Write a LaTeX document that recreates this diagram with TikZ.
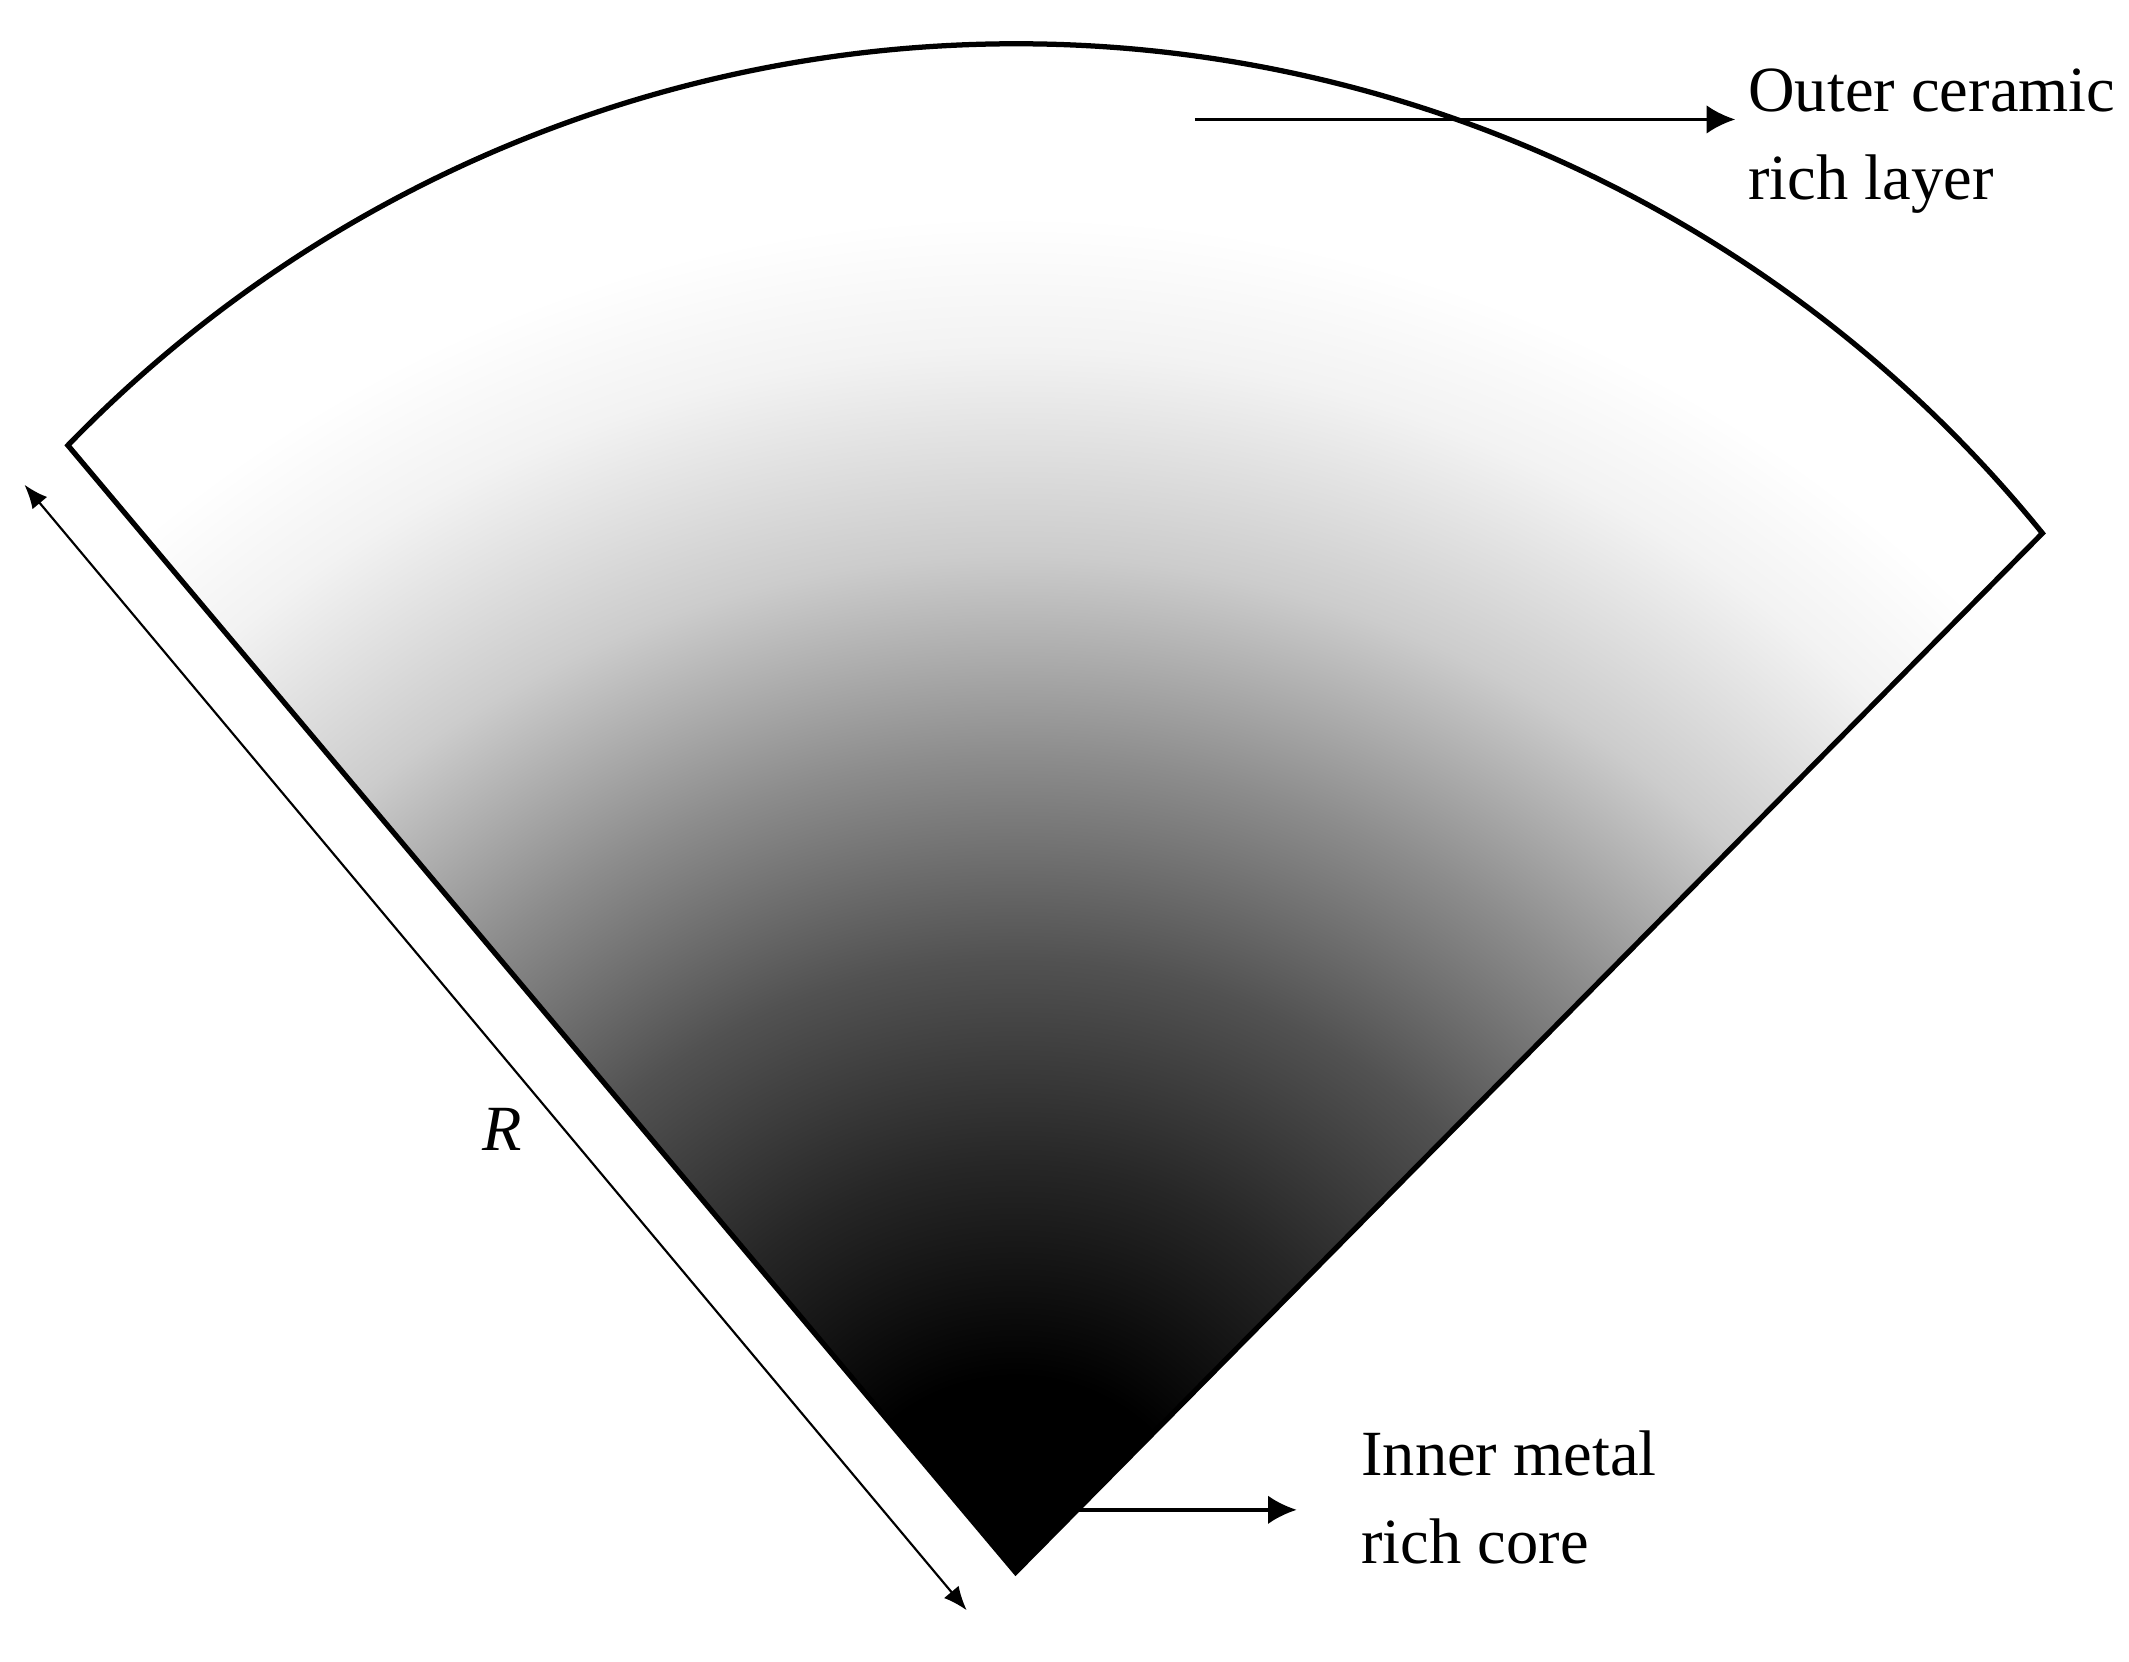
\documentclass[tikz,border=0pt]{standalone}
\usepackage{fontspec}
\setmainfont{Liberation Serif}
\usepackage{tikz}
\usetikzlibrary{arrows.meta}

\pgfdeclareradialshading{fgmshade}{\pgfpoint{0bp}{0bp}}{color(0bp)=(black); color(3bp)=(black); color(6.25bp)=(black!85); color(9.4bp)=(black!68); color(12.5bp)=(black!45); color(15.6bp)=(black!20); color(18.75bp)=(black!5); color(20.8bp)=(white); color(50bp)=(white)}

\begin{document}
\begin{tikzpicture}[x=0.01cm,y=0.01cm,
  lbl/.style={align=left, inner sep=0pt, font=\fontsize{13.5}{18.5}\selectfont},
  ptr/.style={line width=0.7pt, -{Latex[length=6pt,width=6pt]}},
  dimline/.style={line width=0.45pt, {Latex[length=5pt,width=4pt]}-{Latex[length=5pt,width=4pt]}}]
\useasboundingbox (0,0) rectangle (1568,1224);
\coordinate (o) at (748,66);
\coordinate (l) at (50,896);
\begin{scope}
\clip (o) -- (l) arc[start angle=135.9, end angle=39.0, radius=9.72cm] -- cycle;
\shade[shading=fgmshade] (o) circle[radius=12cm];
\end{scope}
\draw[line width=1.1pt] (o) -- (l) arc[start angle=135.9, end angle=39.0, radius=9.72cm] -- cycle;
\coordinate (rtop) at (18,867);
\coordinate (rbot) at (712,38);
\draw[dimline] (rtop) -- (rbot);
\node[font=\fontsize{13.5}{16}\selectfont\itshape] (rlbl) at (370,392) {R};
\node[lbl, anchor=west] (outer) at (1287,1120) {Outer ceramic\\rich layer};
\coordinate (cerstart) at (880,1136);
\coordinate (certip) at (1278,1136);
\draw[ptr] (cerstart) -- (certip);
\node[lbl, anchor=west] (inner) at (1002,121) {Inner metal\\rich core};
\coordinate (corestart) at (793,112);
\coordinate (coretip) at (955,112);
\draw[ptr] (corestart) -- (coretip);
\end{tikzpicture}
\end{document}
